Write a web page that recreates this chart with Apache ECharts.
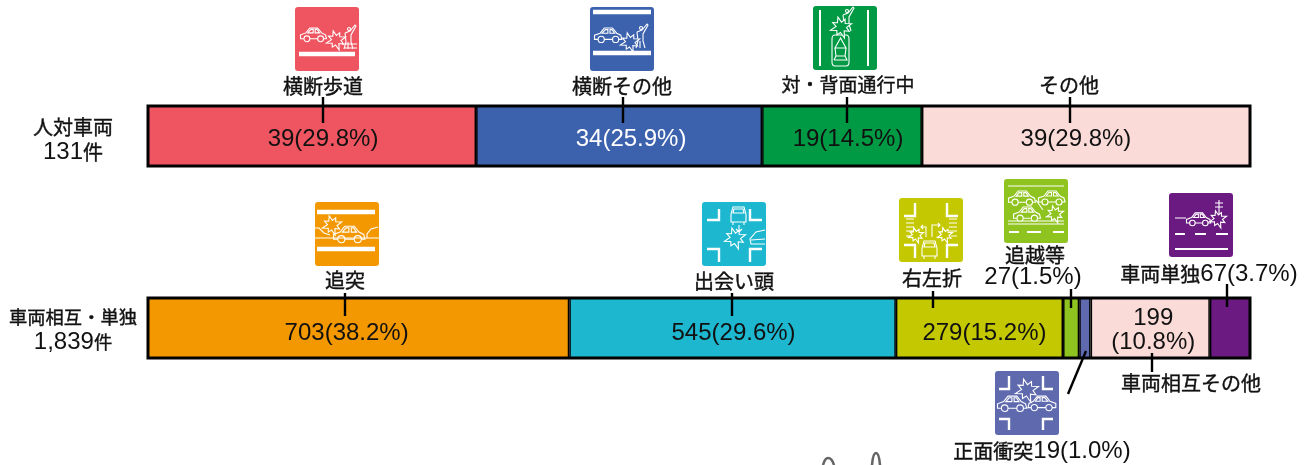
<!DOCTYPE html>
<html lang="ja">
<head>
<meta charset="utf-8">
<title>事故類型別件数</title>
<script src="https://cdn.jsdelivr.net/npm/echarts@6/dist/echarts.min.js"></script>
<style>
  html, body { margin: 0; padding: 0; background: #fff; }
  #chart { width: 1314px; height: 465px; }
</style>
</head>
<body>
<div id="chart"></div>
<script>
// 人対車両
const pedTitle = ['人対車両', '131', '件'];
const pedNames = ['横断歩道', '横断その他', '対・背面通行中', 'その他'];
const pedValues = [39, 34, 19, 39];
const pedPercent = ['29.8', '25.9', '14.5', '29.8'];

// 車両相互・単独
const carTitle = ['車両相互・単独', '1,839', '件'];
const carNames = ['追突', '出会い頭', '右左折', '追越等', '正面衝突', '車両相互その他', '車両単独'];
const carValues = [703, 545, 279, 27, 19, 199, 67];
const carPercent = ['38.2', '29.6', '15.2', '1.5', '1.0', '10.8', '3.7'];

const pedColors = ['#ee5560', '#3d62ad', '#009a44', '#fadbd8'];
const carColors = ['#f39800', '#1db7d0', '#c4c800', '#8fc31f', '#5e69ae', '#fadbd8', '#6b1a82'];

const latinFont = '"Liberation Sans", sans-serif';
const jpFont = '"Noto Sans CJK JP", sans-serif';
const inkColor = '#111';

const sum = arr => arr.reduce((a, b) => a + b, 0);
const amount = (v, p) => `${v}(${p}%)`;

// ---- ピクトグラムの部品 ----
function car(x, y, s, flip) {
  const px = (a, b) => `${(flip ? x + 27 * s - a * s : x + a * s).toFixed(1)} ${(y + b * s).toFixed(1)}`;
  const wheel = (a, b, r) => {
    const c = px(a, b).split(' ').map(Number);
    return `M${c[0] - r * s} ${c[1]}a${r * s} ${r * s} 0 1 0 ${2 * r * s} 0a${r * s} ${r * s} 0 1 0 ${-2 * r * s} 0`;
  };
  return `M${px(4, 12)}L${px(0.5, 12)}L${px(0.5, 8)}L${px(6, 6)}L${px(10, 1)}L${px(18, 1)}L${px(22, 6)}L${px(26, 8)}L${px(27, 12)}L${px(24, 12)}`
    + `M${px(10, 12)}L${px(18, 12)}`
    + `M${px(8, 6)}L${px(11, 2.5)}L${px(13.5, 2.5)}L${px(13.5, 6)}Z`
    + `M${px(15.5, 6)}L${px(15.5, 2.5)}L${px(17.5, 2.5)}L${px(20, 6)}Z`
    + wheel(7, 12, 3) + wheel(21, 12, 3);
}

function frontCar(x, y) {
  return `M${x + 2} ${y + 16}L${x + 2} ${y + 8}L${x + 4} ${y + 1}L${x + 15} ${y + 1}L${x + 17} ${y + 8}L${x + 17} ${y + 16}Z`
    + `M${x + 4} ${y + 7}L${x + 5} ${y + 3}L${x + 14} ${y + 3}L${x + 15} ${y + 7}Z`
    + `M${x + 4} ${y + 16}L${x + 4} ${y + 19}M${x + 15} ${y + 16}L${x + 15} ${y + 19}`;
}

function burst(cx, cy, r) {
  const radii = [1, 0.5, 0.85, 0.45, 1.05, 0.5, 0.8, 0.5, 1, 0.45, 0.85, 0.5, 0.95, 0.45, 0.8, 0.5];
  return radii.map((k, i) => {
    const a = i / radii.length * Math.PI * 2 - 0.3;
    return `${i ? 'L' : 'M'}${(cx + Math.cos(a) * r * k).toFixed(1)} ${(cy + Math.sin(a) * r * k).toFixed(1)}`;
  }).join('') + 'Z';
}

function person(x, y) {
  return `M${x + 3.5} ${y - 5}a1.5 1.5 0 1 0 -3 0a1.5 1.5 0 1 0 3 0`
    + `M${x - 2} ${y - 1}L${x + 3} ${y - 3}L${x + 8} ${y - 9}L${x + 9} ${y - 8}L${x + 4} ${y + 1}L${x + 4} ${y + 8}L${x + 6} ${y + 15}`
    + `M${x - 2} ${y - 1}L${x - 1} ${y + 8}L${x - 3} ${y + 15}M${x + 1} ${y + 8}L${x + 1} ${y + 15}`;
}

const icons = [
  { x: 295, y: 7, color: pedColors[0], thickWidth: 4.4,
    thick: 'M4 47L60 47',
    thin: car(5, 20, 0.98) + person(52, 27) + 'M47 37L62 37M50 41L62 41',
    bursts: [[41, 33, 10]] },
  { x: 590, y: 7, color: pedColors[1], thickWidth: 4.4,
    thick: 'M3 5L61 5M3 46L61 46',
    thin: car(4, 20, 1.03) + person(49, 26),
    bursts: [[40, 35, 10]] },
  { x: 813, y: 6, color: pedColors[2], thickWidth: 2,
    thick: 'M7 4L7 60M55 4L55 60',
    thin: 'M22 29L33 29Q36 29 36 33L36 56Q36 60 33 60L22 60Q19 60 19 56L19 33Q19 29 22 29Z'
      + 'M27.5 32L22 42L33 42ZM22 42L23 50L32 50L33 42M21 54L34 54L32 50M23 50L21 54' + person(32, 10),
    bursts: [[28, 21, 11]] },
  { x: 315, y: 202, color: carColors[0], thickWidth: 4.4,
    thick: 'M2 10L60 10M2 47L60 47',
    thin: car(18, 23, 1.18) + 'M0 36L64 36M0 26L4 26L9 31L15 33M52 36L52 32L56 27L63 25',
    bursts: [[17, 23, 10]] },
  { x: 702, y: 202, color: carColors[1], thickWidth: 2.4,
    thick: 'M5 18L17 18L17 7M48 7L48 18L60 18M5 47L17 47L17 60M60 47L48 47L48 60',
    thin: frontCar(27, 4) + 'M37 23L37 30M34 27L37 30L40 27M63 28L54 30L48 37L49 42L63 42M49 38L63 37',
    bursts: [[33, 36, 11]] },
  { x: 899, y: 198, color: carColors[2], thickWidth: 2.4,
    thick: 'M5 18L16 18L16 5M48 5L48 18L59 18M5 47L16 47L16 60M59 47L48 47L48 60',
    thin: frontCar(21, 42) + 'M27 39L27 29L22 29M24 27L22 29L24 31M33 39L33 27L41 27M39 25L41 27L39 29'
      + 'M7 21L15 21M7 25L15 25M7 29L15 29M7 33L15 33M50 21L58 21M50 25L58 25M50 29L58 29M50 33L58 33M7 38L12 38M52 38L58 38',
    bursts: [[17, 37, 8], [46, 37, 8]] },
  { x: 1004, y: 179, color: carColors[3], thickWidth: 1.8,
    thick: 'M5 53L15 53M23 53L37 53M49 53L60 53',
    thin: 'M4 7L60 7M4 42L60 42M4 45L60 45M32 21L39 31' + car(4, 11, 1.02) + car(34, 11, 1) + car(9, 27, 1.02),
    bursts: [[51, 35, 9]] },
  { x: 1169, y: 193, color: carColors[6], thickWidth: 1.8,
    thick: 'M6 41L16 41M26 41L37 41M47 41L59 41M6 56L59 56',
    thin: 'M6 25L17 25' + car(17, 19, 0.92) + 'M50 7L50 21M46 10L54 10M46 14L54 14',
    bursts: [[49, 26, 9]] },
  { x: 995, y: 371, color: carColors[4], thickWidth: 2.4,
    thick: 'M4 18L14 18L14 5M48 5L48 18L58 18M4 48L14 48L14 59M58 48L48 48L48 59',
    thin: car(2, 24, 1.1) + car(33, 24, 1.05, true),
    bursts: [[32, 19, 12]] }
];

// 枠いっぱいのアンカーを入れて、パスの座標がそのまま使われるようにする
const anchor = 'M0 0M64 64';

function pathNode(d, style) {
  return { type: 'path', shape: { pathData: anchor + d, x: 0, y: 0, width: 64, height: 64, layout: 'cover' }, style };
}

function renderIcon(params) {
  const ic = icons[params.dataIndex];
  return {
    type: 'group',
    x: ic.x,
    y: ic.y,
    children: [
      { type: 'rect', shape: { x: 0, y: 0, width: 64, height: 64, r: 3 }, style: { fill: ic.color } },
      pathNode(ic.thick, { fill: null, stroke: '#fff', lineWidth: ic.thickWidth }),
      pathNode(ic.thin, { fill: null, stroke: '#fff', lineWidth: 1.1 })
    ].concat(ic.bursts.map(b => pathNode(burst(b[0], b[1], b[2]), { fill: ic.color, stroke: '#fff', lineWidth: 1.1 })))
  };
}

// 下端に切れて写り込んでいるイラストの一部
function renderScrap() {
  return {
    type: 'path',
    shape: {
      pathData: 'M820 450M884 465M823 465Q825 458 828 458Q832 458 834 465M872 465Q873 453 876 453Q879 453 880 465',
      x: 820, y: 450, width: 64, height: 15, layout: 'cover'
    },
    style: { fill: null, stroke: '#666', lineWidth: 2.6 }
  };
}

// ---- 引き出し線とラベル ----
const leaders = [
  [323, 97, 323, 123], [623, 97, 623, 123], [847, 97, 847, 123], [1070, 97, 1070, 123],
  [345, 293, 345, 316], [732, 293, 732, 316], [933, 291, 933, 308], [1071, 289, 1071, 308],
  [1227, 284, 1227, 307], [1152, 353, 1152, 372], [1086, 351, 1068, 394]
];
const leaderNodes = leaders.map(l => ({
  type: 'line', z: 60,
  shape: { x1: l[0], y1: l[1], x2: l[2], y2: l[3] },
  style: { stroke: '#000', lineWidth: 2.4 }
}));

// 参考図の見出しは中太なので、Regular に細い縁取りを足す
const callout = (text, x, y, size) => ({
  type: 'text', x, y, z: 60,
  style: { text, textAlign: 'center', textVerticalAlign: 'middle', fill: inkColor,
    stroke: inkColor, lineWidth: 0.4, font: `${size || 20}px ${jpFont}` }
});

const mixedRich = {
  j: { fontFamily: jpFont, fontSize: 20, fill: inkColor, stroke: inkColor, lineWidth: 0.4 },
  n: { fontFamily: latinFont, fontSize: 24, fill: inkColor }
};
const mixedCallout = (name, i, x, y) => ({
  type: 'text', x, y, z: 60,
  style: {
    text: `${name ? `{j|${name}}` : ''}{n|${amount(carValues[i], carPercent[i])}}`,
    rich: mixedRich, textAlign: 'center', textVerticalAlign: 'middle'
  }
});

const textNodes = [
  callout(pedNames[0], 323, 86),
  callout(pedNames[1], 622, 86),
  callout(pedNames[2], 848, 85, 19),
  callout(pedNames[3], 1069, 85),
  callout(carNames[0], 345, 280),
  callout(carNames[1], 734, 281),
  callout(carNames[2], 932, 278),
  callout(carNames[3], 1035, 255),
  mixedCallout('', 3, 1033, 277),
  mixedCallout(carNames[6], 6, 1209, 274),
  callout(carNames[5], 1191, 383),
  mixedCallout(carNames[4], 4, 1042, 451)
];

// ---- 棒 ----
function rowSeries(names, values, percents, colors, gridIndex, offsets, textColors) {
  return names.map((name, i) => ({
    name,
    type: 'bar',
    stack: 'row' + gridIndex,
    xAxisIndex: gridIndex,
    yAxisIndex: gridIndex,
    barWidth: '100%',
    silent: true,
    // 棒の枠は内側に入るので、隣り合って3pxになる太さにする
    itemStyle: { color: colors[i], borderColor: '#000', borderWidth: 1.5 },
    label: {
      show: !!offsets[i],
      position: 'inside',
      offset: offsets[i] || [0, 0],
      fontFamily: latinFont,
      fontSize: 24,
      lineHeight: 24,
      color: textColors[i] || inkColor,
      formatter: () => name === '車両相互その他'
        ? `${values[i]}\n(${percents[i]}%)`
        : amount(values[i], percents[i])
    },
    data: [values[i]]
  }));
}

const pedOffsets = [[11, 3], [12, 3], [6, 3], [-10, 3]];
const carOffsets = [[-12, 5], [1, 5], [5, 5], null, null, [3, 2], null];

const myChart = echarts.init(document.getElementById('chart'));

const yAxisFor = (title, gridIndex, titleSize, shift) => ({
  type: 'category',
  gridIndex,
  data: [title.join('')],
  axisLine: { show: false },
  axisTick: { show: false },
  axisLabel: {
    show: true,
    align: 'center',
    margin: 75,
    padding: [shift * 2, 0, 0, 0],
    formatter: () => `{j|${title[0]}}\n{n|${title[1]}}{j|${title[2]}}`,
    rich: {
      j: { fontFamily: jpFont, fontSize: titleSize, color: inkColor, lineHeight: 25, textBorderColor: inkColor, textBorderWidth: 0.4 },
      n: { fontFamily: latinFont, fontSize: 24, color: inkColor, lineHeight: 25 }
    }
  }
});

const xAxisFor = (values, gridIndex) => ({
  type: 'value',
  gridIndex,
  min: 0,
  max: sum(values),
  show: false
});

const gridFrame = { show: true, borderColor: '#000', borderWidth: 3, backgroundColor: 'transparent' };

myChart.setOption({
  animation: false,
  grid: [
    { left: 148, top: 106, width: 1102, height: 60, ...gridFrame },
    { left: 148, top: 298, width: 1102, height: 60, ...gridFrame }
  ],
  xAxis: [xAxisFor(pedValues, 0), xAxisFor(carValues, 1)],
  yAxis: [yAxisFor(pedTitle, 0, 20, 3.5), yAxisFor(carTitle, 1, 18.3, 2)],
  series: rowSeries(pedNames, pedValues, pedPercent, pedColors, 0, pedOffsets, [null, '#fff', null, null])
    .concat(rowSeries(carNames, carValues, carPercent, carColors, 1, carOffsets, []))
    .concat([
      { type: 'custom', coordinateSystem: 'none', silent: true, z: 10, renderItem: renderIcon, data: icons.map((ic, i) => [i]) },
      { type: 'custom', coordinateSystem: 'none', silent: true, z: 1, renderItem: renderScrap, data: [[0]] }
    ]),
  graphic: { elements: leaderNodes.concat(textNodes) }
});

window.addEventListener('resize', () => {
  myChart.resize();
});
</script>
</body>
</html>
